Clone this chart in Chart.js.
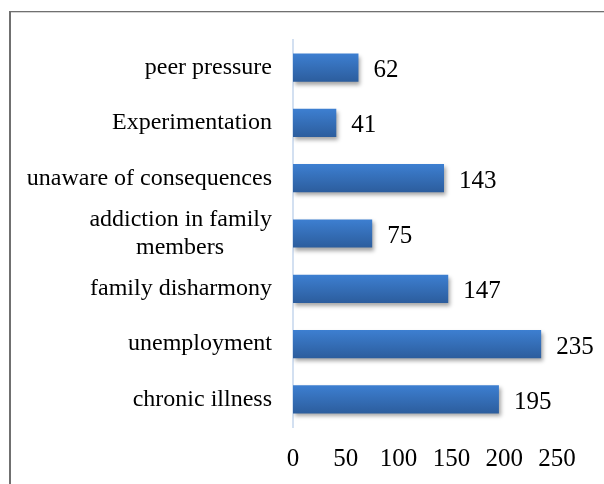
<!DOCTYPE html>
<html>
<head>
<meta charset="utf-8">
<script src="https://cdn.jsdelivr.net/npm/chart.js@4/dist/chart.umd.min.js"></script>
<style>
  html, body { margin: 0; padding: 0; background: #ffffff; }
  #wrap { position: relative; width: 604px; height: 484px; }
</style>
</head>
<body>
<div id="wrap"><canvas id="c" width="604" height="484"></canvas></div>
<script>
const categories = [
  'peer pressure',
  'Experimentation',
  'unaware of consequences',
  ['addiction in family', 'members'],
  'family disharmony',
  'unemployment',
  'chronic illness'
];
const values = [62, 41, 143, 75, 147, 235, 195];
const xTicks = [0, 50, 100, 150, 200, 250];

const FONT = '"Liberation Serif", "Times New Roman", serif';
const CAT_SIZE = 24;

// centre the lines of a multi-line label by padding with no-break spaces
const measureCtx = document.createElement('canvas').getContext('2d');
function centredLines(lines, size) {
  if (!Array.isArray(lines)) return lines;
  measureCtx.font = size + 'px ' + FONT;
  const widths = lines.map(l => measureCtx.measureText(l).width);
  const maxW = Math.max(...widths);
  const sp = measureCtx.measureText('\u00A0').width;
  return lines.map((l, i) => {
    const n = Math.round((maxW - widths[i]) / 2 / sp);
    return l + '\u00A0'.repeat(n);
  });
}

function barGradient(ctx) {
  const chart = ctx.chart;
  const y = chart.scales && chart.scales.y;
  if (!chart.chartArea || !y || ctx.dataIndex === undefined) return '#3a78c6';
  const cy = y.getPixelForValue(ctx.dataIndex);
  const h = (chart.chartArea.bottom - chart.chartArea.top) / categories.length * 0.51;
  const g = chart.ctx.createLinearGradient(0, cy - h / 2, 0, cy + h / 2);
  g.addColorStop(0, '#3d7fd1');
  g.addColorStop(1, '#2c5d9d');
  return g;
}

const framePlugin = {
  id: 'frame',
  beforeDraw(chart) {
    const c = chart.ctx;
    c.save();
    c.fillStyle = '#707070';
    c.fillRect(9, 11, 604 - 9, 1.3);
    c.fillRect(9, 11, 2, 484 - 11);
    c.restore();
  }
};

const shadowPlugin = {
  id: 'barShadow',
  beforeDatasetsDraw(chart) {
    const c = chart.ctx;
    c.save();
    c.shadowColor = 'rgba(0,0,0,0.35)';
    c.shadowBlur = 4;
    c.shadowOffsetX = 2;
    c.shadowOffsetY = 3;
  },
  afterDatasetsDraw(chart) {
    chart.ctx.restore();
    const c = chart.ctx;
    const meta = chart.getDatasetMeta(0);
    c.save();
    c.font = '25px ' + FONT;
    c.fillStyle = '#000000';
    c.textAlign = 'left';
    c.textBaseline = 'middle';
    meta.data.forEach((bar, i) => {
      c.fillText(String(values[i]), bar.x + 15, bar.y + 3);
    });
    c.restore();
  }
};

new Chart(document.getElementById('c'), {
  type: 'bar',
  data: {
    labels: categories,
    datasets: [{
      data: values,
      backgroundColor: barGradient,
      borderWidth: 0,
      categoryPercentage: 1,
      barPercentage: 0.51
    }]
  },
  options: {
    indexAxis: 'y',
    responsive: false,
    animation: false,
    devicePixelRatio: 1,
    layout: { padding: { left: 0, right: 47, top: 40, bottom: 0 } },
    plugins: { legend: { display: false }, tooltip: { enabled: false } },
    scales: {
      x: {
        type: 'linear',
        min: 0,
        max: 250,
        afterBuildTicks(scale) { scale.ticks = xTicks.map(v => ({ value: v })); },
        afterFit(scale) { scale.height = 57; },
        grid: { display: false, drawTicks: false },
        border: { display: false },
        ticks: {
          font: { family: FONT, size: 25 },
          color: '#000000',
          padding: 17,
          maxRotation: 0
        }
      },
      y: {
        afterFit(scale) { scale.width = 293; },
        grid: { display: false, drawTicks: false },
        border: { display: true, color: '#d3e0f1', width: 2 },
        ticks: {
          font: { family: FONT, size: CAT_SIZE, lineHeight: 1.15 },
          color: '#000000',
          padding: 21,
          autoSkip: false,
          callback(value, index) { return centredLines(categories[index], CAT_SIZE); }
        }
      }
    }
  },
  plugins: [framePlugin, shadowPlugin]
});
</script>
</body>
</html>
